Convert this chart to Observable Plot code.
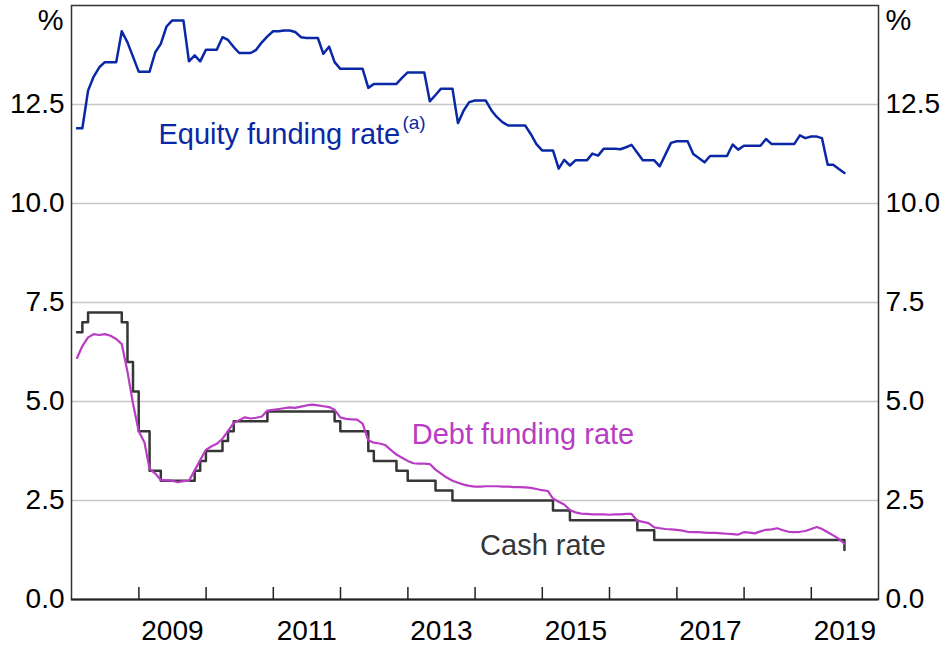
<!DOCTYPE html>
<html><head><meta charset="utf-8">
<script src="https://cdn.jsdelivr.net/npm/d3@7"></script>
<script src="https://cdn.jsdelivr.net/npm/@observablehq/plot@0.6"></script>
<style>body{margin:0;background:#fff;overflow:hidden}</style>
</head><body><div id="chart"></div>
<script>
// Monthly data, Jan 2008 – Jun 2019 (month-end)
const equityRate = [
  11.90,11.90,12.85,13.20,13.44,13.57,13.57,13.57,14.35,14.07,13.71,13.33,
  13.33,13.33,13.82,14.03,14.47,14.62,14.62,14.62,13.59,13.74,13.59,13.88,
  13.88,13.88,14.20,14.13,13.95,13.80,13.80,13.80,13.88,14.07,14.22,14.35,
  14.35,14.37,14.37,14.33,14.20,14.18,14.18,14.18,13.78,13.96,13.57,13.40,
  13.40,13.40,13.40,13.40,12.92,13.02,13.02,13.02,13.02,13.02,13.17,13.31,
  13.31,13.31,13.31,12.58,12.74,12.90,12.90,12.90,12.03,12.35,12.56,12.60,
  12.60,12.60,12.35,12.18,12.05,11.97,11.97,11.97,11.97,11.75,11.50,11.34,
  11.34,11.34,10.88,11.10,10.96,11.09,11.09,11.09,11.26,11.21,11.38,11.38,
  11.38,11.37,11.42,11.48,11.28,11.09,11.09,11.09,10.94,11.24,11.53,11.57,
  11.57,11.57,11.25,11.15,11.04,11.20,11.20,11.20,11.20,11.49,11.36,11.46,
  11.46,11.46,11.46,11.63,11.50,11.50,11.50,11.50,11.50,11.72,11.65,11.69,
  11.69,11.65,10.98,10.98,10.87,10.77
];
const debtRate = [
  6.10,6.40,6.62,6.70,6.68,6.70,6.66,6.58,6.45,5.75,4.95,4.25,
  3.97,3.30,3.18,3.02,3.01,3.00,2.96,2.99,3.00,3.26,3.52,3.78,
  3.87,3.93,4.06,4.25,4.46,4.53,4.60,4.57,4.59,4.62,4.77,4.79,
  4.81,4.83,4.85,4.84,4.87,4.90,4.92,4.90,4.88,4.86,4.79,4.60,
  4.56,4.55,4.54,4.44,4.02,3.96,3.94,3.90,3.78,3.66,3.58,3.50,
  3.44,3.43,3.43,3.42,3.28,3.18,3.08,3.00,2.95,2.90,2.87,2.85,
  2.85,2.86,2.86,2.86,2.85,2.85,2.84,2.84,2.83,2.82,2.79,2.76,
  2.74,2.55,2.47,2.40,2.26,2.20,2.17,2.16,2.15,2.15,2.15,2.14,
  2.15,2.15,2.16,2.16,1.99,1.96,1.93,1.82,1.80,1.78,1.77,1.76,
  1.74,1.71,1.70,1.70,1.69,1.68,1.68,1.67,1.66,1.65,1.64,1.70,
  1.69,1.67,1.72,1.76,1.77,1.80,1.75,1.71,1.70,1.71,1.73,1.78,
  1.83,1.78,1.70,1.62,1.53,1.41
];
const cashRate = [
  6.75,7.00,7.25,7.25,7.25,7.25,7.25,7.25,7.00,6.00,5.25,4.25,
  4.25,3.25,3.25,3.00,3.00,3.00,3.00,3.00,3.00,3.25,3.50,3.75,
  3.75,3.75,4.00,4.25,4.50,4.50,4.50,4.50,4.50,4.50,4.75,4.75,
  4.75,4.75,4.75,4.75,4.75,4.75,4.75,4.75,4.75,4.75,4.50,4.25,
  4.25,4.25,4.25,4.25,3.75,3.50,3.50,3.50,3.50,3.25,3.25,3.00,
  3.00,3.00,3.00,3.00,2.75,2.75,2.75,2.50,2.50,2.50,2.50,2.50,
  2.50,2.50,2.50,2.50,2.50,2.50,2.50,2.50,2.50,2.50,2.50,2.50,
  2.50,2.25,2.25,2.25,2.00,2.00,2.00,2.00,2.00,2.00,2.00,2.00,
  2.00,2.00,2.00,2.00,1.75,1.75,1.75,1.50,1.50,1.50,1.50,1.50,
  1.50,1.50,1.50,1.50,1.50,1.50,1.50,1.50,1.50,1.50,1.50,1.50,
  1.50,1.50,1.50,1.50,1.50,1.50,1.50,1.50,1.50,1.50,1.50,1.50,
  1.50,1.50,1.50,1.50,1.50,1.25
];
const yTickValues = [0, 2.5, 5, 7.5, 10, 12.5];
const gridValues = [2.5, 5, 7.5, 10, 12.5];
const tickYears = [2009,2010,2011,2012,2013,2014,2015,2016,2017,2018,2019];
const labelYears = [2009,2011,2013,2015,2017,2019];
const labelNames = ["Equity funding rate", "Debt funding rate", "Cash rate"];
const labelDates = ["2009-04-17", "2014-09-18", "2014-01-28"];
const labelValues = [11.74, 4.17, 1.35];

const monthEnd = i => new Date(Date.UTC(2008, i + 1, 0));
const toRows = arr => arr.map((v, i) => ({date: monthEnd(i), value: v}));
const equity = toRows(equityRate), debt = toRows(debtRate), cash = toRows(cashRate);
const labels = labelNames.map((t, i) => ({text: t, date: new Date(labelDates[i]), value: labelValues[i]}));

const BLUE = "#0a28a6", MAG = "#b93cc4", GREY = "#363636";
const FONT = "'Liberation Sans', Arial, Helvetica, sans-serif";
const fmt = d => d.toFixed(1);
const FS = 28;

const chart = Plot.plot({
  width: 946, height: 647,
  marginLeft: 71, marginRight: 68, marginTop: 5, marginBottom: 48,
  style: {fontFamily: FONT, fontSize: FS + "px", color: "#000", background: "#fff"},
  x: {type: "utc", domain: [new Date(Date.UTC(2008,0,1)), new Date(Date.UTC(2020,0,1))]},
  y: {domain: [0, 15]},
  marks: [
    Plot.gridY(gridValues, {stroke: "#c6c6c6", strokeOpacity: 1, strokeWidth: 1.5}),
    Plot.line(cash, {x: "date", y: "value", curve: "step-after", stroke: GREY, strokeWidth: 2.5}),
    Plot.line(debt, {x: "date", y: "value", stroke: MAG, strokeWidth: 2.2}),
    Plot.line(equity, {x: "date", y: "value", stroke: BLUE, strokeWidth: 2.5}),
    Plot.frame({stroke: "#333", strokeWidth: 1.5}),
    Plot.ruleY([0], {stroke: "#222", strokeWidth: 2}),
    Plot.axisY(yTickValues, {anchor: "left", tickSize: 0, tickPadding: 7, tickFormat: fmt, fontSize: FS, label: null}),
    Plot.axisY(yTickValues, {anchor: "right", tickSize: 0, tickPadding: 7, tickFormat: fmt, fontSize: FS, label: null}),
    Plot.axisX(tickYears.map(y => new Date(Date.UTC(y,0,1))), {anchor: "bottom", tickSize: -12, tickFormat: () => "", stroke: "#222", strokeWidth: 1.5, label: null}),
    Plot.axisX(labelYears.map(y => new Date(Date.UTC(y,6,2))), {anchor: "bottom", tickSize: 0, tickPadding: 21, tickFormat: d => String(d.getUTCFullYear()), fontSize: FS, label: null}),
    Plot.text(["%"], {frameAnchor: "top-left", textAnchor: "end", lineAnchor: "middle", dx: -8, dy: 15, fontSize: 29}),
    Plot.text(["%"], {frameAnchor: "top-right", textAnchor: "start", lineAnchor: "middle", dx: 7, dy: 15, fontSize: 29}),
    Plot.text([labels[0]], {x: "date", y: "value", text: "text", textAnchor: "start", fill: BLUE, fontSize: 29}),
    Plot.text([labels[0]], {x: "date", y: "value", text: () => "(a)", textAnchor: "start", dx: 244, dy: -12, fill: BLUE, fontSize: 19}),
    Plot.text([labels[1]], {x: "date", y: "value", text: "text", textAnchor: "middle", fill: MAG, fontSize: 29}),
    Plot.text([labels[2]], {x: "date", y: "value", text: "text", textAnchor: "start", fill: GREY, fontSize: 29})
  ]
});
document.getElementById("chart").appendChild(chart);
</script>
</body></html>
